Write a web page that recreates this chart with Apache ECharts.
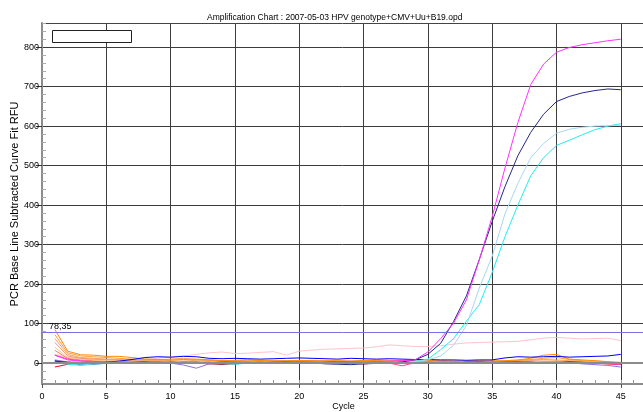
<!DOCTYPE html>
<html><head><meta charset="utf-8">
<script src="https://cdn.jsdelivr.net/npm/echarts@6/dist/echarts.min.js"></script>
<style>html,body{margin:0;padding:0;background:#fff}#c{width:643px;height:412px}</style>
</head><body><div id="c"></div>
<script>
const FONT = "'Liberation Sans', Arial, sans-serif";
const titleText = 'Amplification Chart : 2007-05-03 HPV genotype+CMV+Uu+B19.opd';
const xName = 'Cycle';
const yName = 'PCR Base Line Subtracted Curve Fit RFU';
const thresholdValue = 78.35;
const thresholdLabel = '78,35';

const cycles = [1,2,3,4,5,6,7,8,9,10,11,12,13,14,15,16,17,18,19,20,21,22,23,24,25,26,27,28,29,30,31,32,33,34,35,36,37,38,39,40,41,42,43,44,45];
const yTickValues = [0,100,200,300,400,500,600,700,800];
const yMinorTickValues = [-40,-20,20,40,60,80,120,140,160,180,220,240,260,280,320,340,360,380,420,440,460,480,520,540,560,580,620,640,660,680,720,740,760,780,820,840,860];

// amplifying wells
const magentaAmp = [20,8,5,3,2,3,2,1,3,2,0,1,2,0,3,2,1,3,2,4,3,2,3,4,3,4,5,6,8,28,62,101,160,261,370,494,609,705,757,787,799,806,811,816,820];
const navyAmp = [5,2,0,-2,-1,0,1,2,0,-1,1,2,0,-2,0,1,2,0,-1,0,1,-2,-3,-4,-2,-1,0,3,8,22,50,105,170,262,358,447,525,584,630,662,675,684,690,694,692];
const lightBlueAmp = [3,0,-2,-3,0,2,1,0,2,1,0,-1,1,2,0,1,2,1,0,2,1,0,2,1,3,2,1,3,4,8,18,45,95,190,270,378,455,520,556,582,592,597,600,601,602];
const cyanAmp = [2,-3,-6,-3,0,1,0,2,1,0,-1,0,2,1,0,1,-1,0,2,1,0,1,2,0,1,2,3,2,5,10,34,62,106,148,229,320,400,474,520,551,564,578,591,600,606];

// baseline wells
const lightPink = [22,14,12,10,9,8,8,10,12,15,18,22,26,28,24,25,27,29,20,30,33,35,36,37,38,41,46,44,42,42,44,48,51,52,53,54,55,59,63,65,63,61,62,63,57];
const orange1 = [85,30,21,20,17,17,14,10,9,8,9,10,8,6,7,8,6,5,6,7,6,5,6,5,7,6,5,6,8,6,5,4,5,6,5,6,8,12,20,22,10,8,6,3,0];
const orange2 = [72,26,18,16,14,12,10,9,8,10,12,9,7,6,5,8,7,6,5,6,7,6,5,4,6,8,7,5,4,6,7,5,3,4,6,5,7,9,12,14,9,6,5,4,2];
const orange3 = [62,22,14,12,10,9,8,7,8,6,5,7,8,6,5,4,6,7,5,4,5,6,4,3,5,6,4,5,3,4,5,6,4,3,4,5,6,8,9,8,6,5,3,2,-2];
const orange4 = [52,18,12,10,9,8,6,5,6,4,3,5,6,4,3,5,4,3,4,5,3,2,4,5,3,2,4,3,5,4,2,3,4,5,3,4,5,6,5,4,3,2,1,0,-3];
const orange5 = [40,14,10,8,7,6,5,4,5,3,2,4,5,3,2,4,3,5,4,3,2,4,3,2,4,3,5,4,3,2,4,3,2,4,3,5,4,3,4,6,4,3,2,1,0];
const orange6 = [32,12,8,6,5,4,3,5,4,2,3,4,2,1,3,2,4,3,2,1,3,2,1,3,2,4,3,1,2,3,1,2,3,1,2,3,4,2,3,5,3,2,0,-1,-2];
const hotPink = [20,10,6,4,3,2,1,2,3,0,-1,1,2,0,1,2,0,-1,1,2,0,1,-1,0,2,1,0,-7,1,0,2,1,0,1,2,0,1,0,2,1,0,-1,0,-2,-4];
const blueWell = [5,0,-2,0,2,5,9,14,16,15,17,16,12,11,12,11,10,11,12,13,12,11,10,12,11,10,11,10,9,9,8,8,7,8,8,13,16,15,16,17,15,16,17,18,22];
const redWell = [-10,-3,0,2,1,0,2,3,1,0,2,1,0,3,2,1,0,2,3,1,0,2,4,3,1,0,2,1,0,2,1,0,2,3,1,2,3,2,1,0,2,1,0,-2,-3];
const purpleWell = [8,3,2,1,0,2,1,3,2,0,-5,-13,-2,1,0,2,1,0,1,2,0,1,2,0,1,2,1,0,2,1,0,2,1,0,2,3,2,1,0,2,1,-2,-4,-6,-10];
const darkRedWell = [2,0,-1,1,0,-1,1,0,-1,2,1,0,-2,-3,-1,0,1,0,2,1,0,-1,1,0,-2,0,1,2,0,-1,1,0,2,1,0,-1,1,2,0,1,3,2,0,-1,-2];
const tealWell = [6,0,-4,-2,1,2,0,1,-1,0,2,1,0,-1,-3,0,1,0,2,1,-1,0,1,2,0,1,0,-1,1,0,2,1,0,1,2,0,1,2,0,1,2,0,-1,0,-1];

const wells = [
  [lightPink, '#ffc4cc'],
  [orange6, '#ff7f50'],
  [orange5, '#ffc890'],
  [orange4, '#e9967a'],
  [orange3, '#f4a460'],
  [orange2, '#ffa040'],
  [orange1, '#ff8c00'],
  [tealWell, '#20c0c0'],
  [darkRedWell, '#8b0000'],
  [purpleWell, '#9370db'],
  [redWell, '#ff0000'],
  [hotPink, '#ff3fa0'],
  [blueWell, '#0000ff'],
  [cyanAmp, '#22eeee'],
  [lightBlueAmp, '#a8d8f0'],
  [navyAmp, '#26268c'],
  [magentaAmp, '#ff33ff']
];

const X_MAX = 46.73;

const series = wells.map(([arr, color], i) => ({
  type: 'line',
  data: cycles.map((c, k) => [c, arr[k]]),
  showSymbol: false,
  symbol: 'none',
  lineStyle: { color, width: 1 },
  itemStyle: { color },
  animation: false,
  silent: true,
  z: 3 + i * 0.01
}));
series[0].markLine = {
  silent: true, symbol: 'none', animation: false,
  data: [
    { yAxis: thresholdValue, lineStyle: { color: '#7b6fe6', width: 1, type: 'solid' },
      label: { show: true, position: 'insideStartTop', formatter: thresholdLabel, color: '#000', fontSize: 9, fontFamily: FONT, distance: [7, 1] } },
    { yAxis: 0, lineStyle: { color: '#8c8c8c', width: 2, type: 'solid' }, label: { show: false } }
  ]
};

const chart = echarts.init(document.getElementById('c'), null, { renderer: 'canvas' });
chart.setOption({
  backgroundColor: '#ffffff',
  animation: false,
  title: { text: titleText, left: 202, top: 8, textStyle: { fontSize: 8.5, fontWeight: 'normal', color: '#000', fontFamily: FONT } },
  grid: { left: 42, top: 23, right: 0, height: 361, show: false },
  xAxis: [
    { type: 'value', min: 0, max: X_MAX, interval: 5, position: 'bottom',
      axisLine: { onZero: false, lineStyle: { color: '#8c8c8c', width: 2 } },
      axisTick: { show: true, length: 4, lineStyle: { color: '#555' } },
      axisLabel: { color: '#000', fontSize: 9, fontFamily: FONT, margin: 8, showMaxLabel: false },
      splitLine: { show: true, showMaxLine: false, lineStyle: { color: '#3c3c3c', width: 1 } } },
    { type: 'value', min: 0, max: X_MAX, interval: 1, position: 'bottom',
      axisLine: { show: false, onZero: false },
      axisTick: { show: true, inside: true, length: 4, lineStyle: { color: '#999' } },
      axisLabel: { show: false }, splitLine: { show: false } },
    { type: 'value', min: 0, max: X_MAX, position: 'top',
      axisLine: { show: true, onZero: false, lineStyle: { color: '#444', width: 1 } },
      axisTick: { show: false }, axisLabel: { show: false }, splitLine: { show: false } }
  ],
  yAxis: [
    { type: 'value', min: -53, max: 861, position: 'left',
      axisLine: { show: true, onZero: false, lineStyle: { color: '#8c8c8c', width: 2 } },
      axisTick: { show: true, length: 6, customValues: yTickValues, lineStyle: { color: '#333' } },
      axisLabel: { color: '#000', fontSize: 9, fontFamily: FONT, margin: 3, customValues: yTickValues },
      splitLine: { show: true, lineStyle: { color: '#3c3c3c', width: 1 } } },
    { type: 'value', min: -53, max: 861, position: 'left',
      axisLine: { show: false, onZero: false },
      axisTick: { show: true, inside: true, length: 4, customValues: yMinorTickValues, lineStyle: { color: '#aaa' } },
      axisLabel: { show: false }, splitLine: { show: false } }
  ],
  graphic: [
    { type: 'rect', shape: { x: 52.5, y: 30.5, width: 79, height: 12 }, style: { fill: '#fff', stroke: '#222', lineWidth: 1 }, z: 100 },
    { type: 'text', x: 343.5, y: 407, style: { text: xName, fill: '#000', font: '9px ' + FONT, textAlign: 'center', textVerticalAlign: 'middle' }, z: 100 },
    { type: 'text', x: 15, y: 204, rotation: Math.PI / 2, style: { text: yName, fill: '#000', font: '11px ' + FONT, textAlign: 'center', textVerticalAlign: 'middle' }, z: 100 }
  ],
  series
});
</script></body></html>
